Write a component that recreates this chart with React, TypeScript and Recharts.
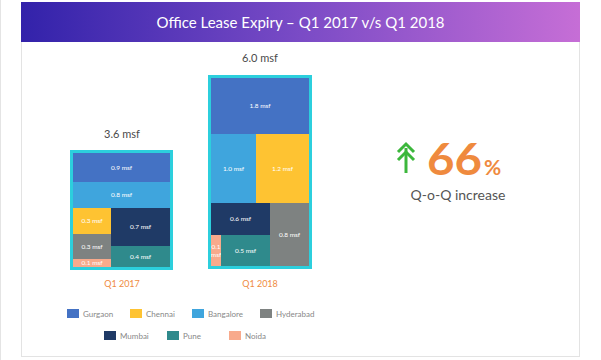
import React from 'react';
import { Treemap } from 'recharts';

const CITIES = ['Gurgaon', 'Chennai', 'Bangalore', 'Hyderabad', 'Mumbai', 'Pune', 'Noida'];
const CITY_COLORS = ['#4472c4', '#fec332', '#3fa5dd', '#7e8281', '#1f3a66', '#2f8a8c', '#f8aa8c'];

// lease expiry per city, msf
const Q1_2017 = [0.9, 0.3, 0.8, 0.3, 0.7, 0.4, 0.1];
const Q1_2018 = [1.8, 1.2, 1.0, 0.8, 0.6, 0.5, 0.1];

const TOTALS = ['3.6 msf', '6.0 msf'];
const PERIODS = ['Q1 2017', 'Q1 2018'];

// nesting of city indexes, so the squarify cuts fall like in the original
type Nest = number | Nest[];
const NEST_2017: Nest[] = [0, [2, [[[1, 3], 6], [4, 5]]]];
const NEST_2018: Nest[] = [0, [[2, 1], [[4, [6, 5]], 3]]];

function buildTree(nest: Nest, values: number[]): any {
  if (typeof nest === 'number') return { name: CITIES[nest], value: values[nest] };
  return { name: '', children: nest.map(n => buildTree(n, values)) };
}

const data2017 = NEST_2017.map(n => buildTree(n, Q1_2017));
const data2018 = NEST_2018.map(n => buildTree(n, Q1_2018));

const FONT = 'Lato, "Open Sans", sans-serif';

const renderCell = (props: any) => {
  const { x, y, width, height, name, value, children } = props;
  if (children && children.length) return <g />;
  const color = CITY_COLORS[CITIES.indexOf(name)];
  const cx = x + width / 2;
  const cy = y + height / 2;
  const label = Number(value).toFixed(1);
  return (
    <g>
      <rect x={x} y={y} width={width} height={height} fill={color} />
      {width < 20 ? (
        <text textAnchor="middle" fontSize={6.5} fill="#fff" fontFamily={FONT}>
          <tspan x={cx} y={cy - 2}>{label}</tspan>
          <tspan x={cx} y={cy + 6}>msf</tspan>
        </text>
      ) : (
        <text x={cx} y={cy + 2.2} textAnchor="middle" fontSize={6.5} fill="#fff" fontFamily={FONT}>
          {`${label} msf`}
        </text>
      )}
    </g>
  );
};

const LEGEND_ROWS = [
  { start: 67, items: [0, 1, 2, 3], y: 309 },
  { start: 104, items: [4, 5, 6], y: 331 },
];
const LEGEND_STEP = [63, 62, 68];

export default function App() {
  const boxBorder = '3px solid #2ccfdd';
  return (
    <div style={{ position: 'absolute', left: 0, top: 0, width: 601, height: 360, background: '#fff', fontFamily: FONT }}>
      <div style={{ position: 'absolute', left: 0, top: 0, width: 1, height: 360, background: '#e4e4e4' }} />
      {/* card */}
      <div
        style={{
          position: 'absolute', left: 21, top: 2, width: 559, height: 355,
          border: '1px solid #e3e3e3', boxSizing: 'border-box', background: '#fff',
        }}
      />
      <div
        style={{
          position: 'absolute', left: 21, top: 2, width: 559, height: 40,
          background: 'linear-gradient(to right, #3222aa, #7a4bc6 50%, #c66ed6)',
          color: '#fff', fontSize: 15, lineHeight: '40px', textAlign: 'center',
        }}
      >
        Office Lease Expiry – Q1 2017 v/s Q1 2018
      </div>

      <div style={{ position: 'absolute', left: 70, top: 150, border: boxBorder, width: 97, height: 114 }}>
        <Treemap
          width={97}
          height={114}
          data={data2017}
          dataKey="value"
          aspectRatio={1.158}
          isAnimationActive={false}
          content={renderCell}
        />
      </div>
      <div style={{ position: 'absolute', left: 208, top: 75, border: boxBorder, width: 98, height: 188 }}>
        <Treemap
          width={98}
          height={188}
          data={data2018}
          dataKey="value"
          aspectRatio={1}
          isAnimationActive={false}
          content={renderCell}
        />
      </div>

      <svg width={601} height={360} style={{ position: 'absolute', left: 0, top: 0, pointerEvents: 'none' }}>
        <text x={122} y={138} textAnchor="middle" fontSize={11} fill="#4a4a4a">{TOTALS[0]}</text>
        <text x={260} y={62} textAnchor="middle" fontSize={11} fill="#4a4a4a">{TOTALS[1]}</text>
        <text x={122} y={287} textAnchor="middle" fontSize={9} fill="#ef8b3f">{PERIODS[0]}</text>
        <text x={260} y={287} textAnchor="middle" fontSize={9} fill="#ef8b3f">{PERIODS[1]}</text>

        {/* growth callout */}
        <g stroke="#3cb73c" strokeWidth={3} fill="none" strokeLinecap="butt">
          <line x1={406} y1={173} x2={406} y2={148} />
          <polyline points="398,152 406,144 414,152" />
          <polyline points="398,160 406,152 414,160" />
        </g>
        <text x={427} y={175} fontSize={43} fontWeight={700} fill="#ef8a3e" textLength={55} lengthAdjust="spacingAndGlyphs">66</text>
        <text x={484} y={175} fontSize={21} fontWeight={700} fill="#ef8a3e">%</text>
        <text x={458} y={200} textAnchor="middle" fontSize={14} fill="#555">Q-o-Q increase</text>

        {/* legend */}
        {LEGEND_ROWS.map(row => {
          let cur = row.start;
          return row.items.map((ci, k) => {
            const x = cur;
            cur += LEGEND_STEP[k] || 0;
            return (
              <g key={ci}>
                <rect x={x} y={row.y} width={12} height={9} fill={CITY_COLORS[ci]} />
                <text x={x + 16} y={row.y + 7.5} fontSize={8} fill="#888">{CITIES[ci]}</text>
              </g>
            );
          });
        })}
      </svg>
    </div>
  );
}
